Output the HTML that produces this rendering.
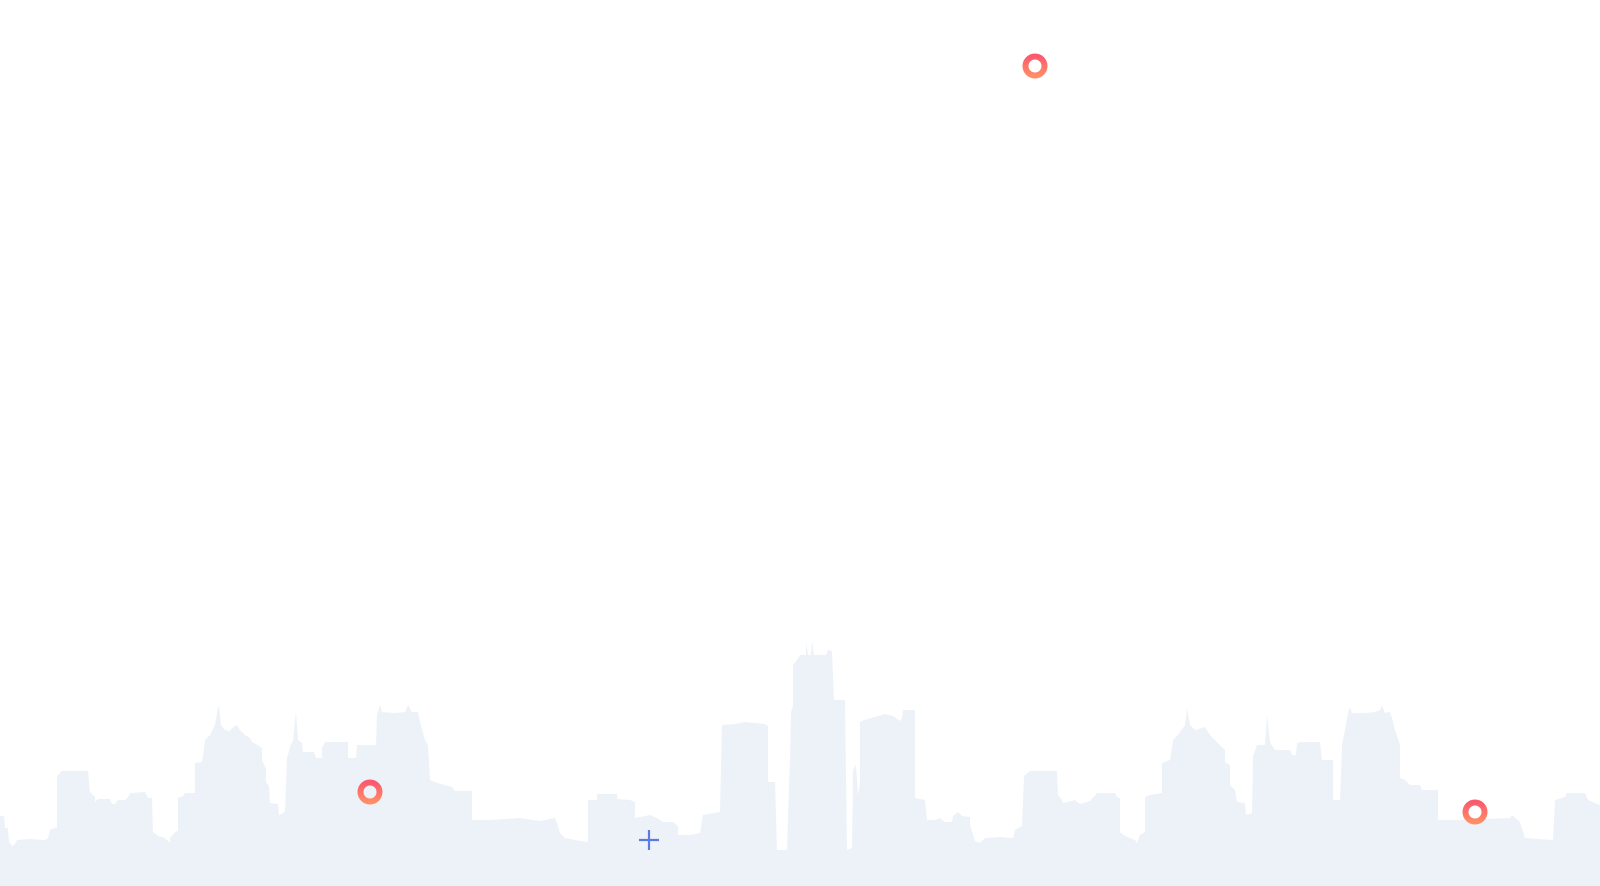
<!DOCTYPE html>
<html><head><meta charset="utf-8"><style>
html,body{margin:0;padding:0;background:#fff;}
svg{display:block;}
</style></head><body>
<svg width="1600" height="886" viewBox="0 0 1600 886" xmlns="http://www.w3.org/2000/svg">
<defs>
<linearGradient id="rg" x1="0" y1="0" x2="0" y2="1">
<stop offset="0" stop-color="#fb5a6e"/><stop offset="1" stop-color="#ff8d66"/>
</linearGradient>
</defs>
<polygon fill="#edf2f9" points="
0,816 4,816 5,828 8,828 9,842 12,846 15,844 17,840 30,839 45,840 48,838 50,830 55,828 57,828 57,776 62,771 88,771 90,792 95,797 95,802 98,799 110,799 112,804 115,804 118,800 125,800 128,797 130,793 145,792 148,798 152,798 153,832 158,836 165,838 170,843 170,838 175,832 178,831 178,798 183,796 185,793 195,793 195,763 202,762 205,740 210,735 215,725 218,708 219,705 221,725 225,730 230,731 232,728 235,726 237,725 240,730 245,735 250,738 252,742 256,744 262,748 262,760 265,767 266,768 266,782 269,786 270,803 278,804 279,815 283,813 285,811 287,757 288,755 290,746 293,741 295,720 296,712 298,740 302,743 303,752 314,752 316,758 322,758 322,748 325,742 348,742 348,758 356,758 357,745 376,745 377,715 380,705 382,712 395,713 405,712 408,705 412,712 418,712 420,722 425,740 428,745 430,780 437,783 452,787 455,791 472,791 472,820 490,820 520,818 540,821 555,818 558,826 560,833 565,838 575,840 588,842 588,800 597,800 597,794 617,794 617,799 630,800 635,802 635,818 650,815 657,818 663,822 673,822 678,826 678,835 690,835 700,833 703,815 720,812 722,725 735,724 745,722 765,724 768,726 768,782 775,782 777,850 787,850 789,785 790,760 791,712 793,706 793,665 797,660 800,655 806,655 806,642 808,655 811,655 812,641 814,655 826,655 828,650 832,651 834,700 845,700 847,850 852,848 853,770 856,765 858,795 860,783 860,722 864,720 875,717 885,714 893,716 900,721 902,718 903,710 915,710 915,798 925,800 927,820 935,820 940,818 945,822 952,822 953,816 958,812 962,816 970,817 970,825 975,841 980,843 985,838 1000,837 1013,838 1015,830 1022,826 1024,776 1030,771 1057,771 1058,795 1062,800 1063,803 1075,800 1080,804 1090,801 1097,793 1115,793 1118,798 1120,798 1120,832 1125,836 1135,840 1137,843 1140,835 1145,832 1145,797 1150,795 1162,793 1162,763 1170,760 1173,740 1178,735 1185,725 1187,708 1190,725 1195,730 1205,727 1210,735 1220,745 1225,750 1225,762 1230,765 1230,785 1235,790 1237,802 1245,803 1246,815 1252,813 1253,756 1257,745 1265,745 1267,715 1270,742 1275,750 1290,750 1292,755 1296,755 1297,743 1302,742 1320,742 1322,760 1333,760 1333,800 1340,800 1342,745 1345,730 1348,713 1350,707 1352,713 1365,713 1375,712 1380,710 1382,705 1385,713 1390,712 1392,718 1395,730 1400,745 1400,778 1405,780 1410,785 1420,785 1422,790 1438,790 1438,820 1460,820 1510,818 1512,815 1520,822 1525,838 1553,840 1555,800 1565,797 1567,793 1585,793 1588,800 1600,805 1600,886 0,886"/>
<circle cx="1035" cy="66" r="9.5" fill="none" stroke="url(#rg)" stroke-width="6"/>
<circle cx="370" cy="792" r="9.5" fill="none" stroke="url(#rg)" stroke-width="6"/>
<circle cx="1475" cy="812" r="9.5" fill="none" stroke="url(#rg)" stroke-width="6"/>
<g stroke="#5b7be0" stroke-width="2.2">
<line x1="639" y1="840" x2="659" y2="840"/>
<line x1="649" y1="830" x2="649" y2="850"/>
</g>
</svg>
</body></html>
